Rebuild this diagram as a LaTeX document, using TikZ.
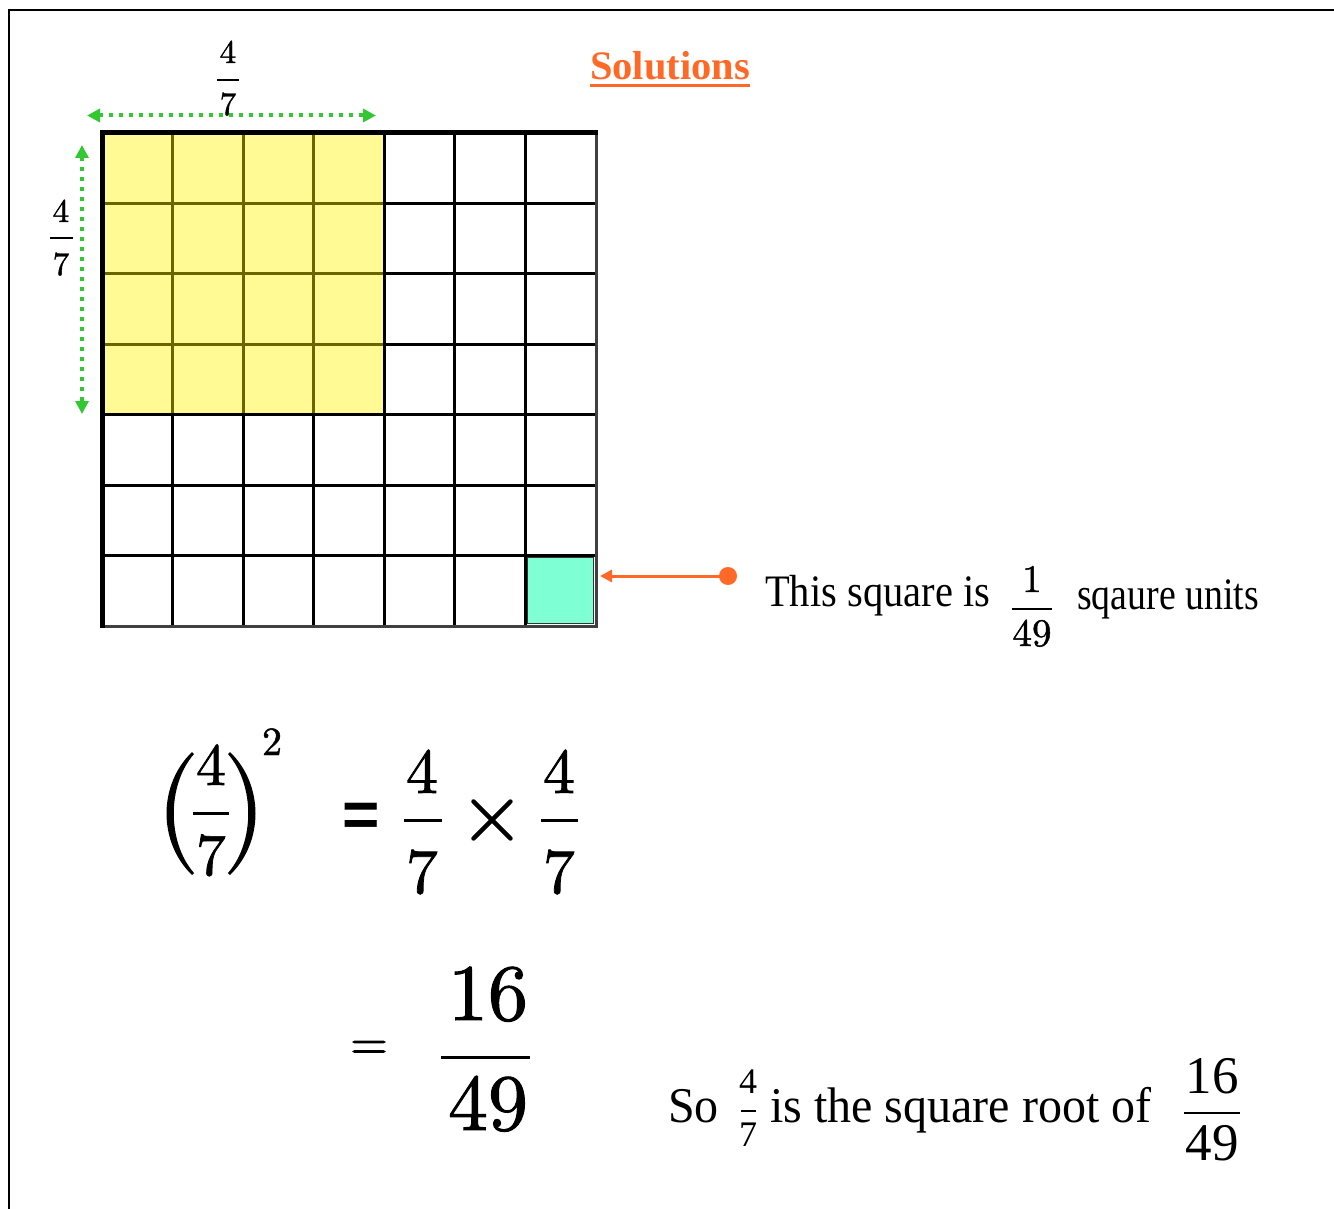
\documentclass[tikz,border=0pt]{standalone}
\usepackage{fontspec}
\setmainfont{Liberation Serif}
\newfontfamily\cmb{lmroman10-regular.otf}[FakeBold=1.2]
\newfontfamily\sansb{Liberation Sans}
\usetikzlibrary{arrows.meta}
\definecolor{grn}{RGB}{50,200,50}
\definecolor{org}{RGB}{255,105,40}
\definecolor{aqua}{RGB}{127,255,212}
\tikzset{
  dig/.style={inner sep=0pt, anchor=base, font=\cmb\fontsize{#1}{#1}\selectfont},
  tdig/.style={inner sep=0pt, anchor=base, font=\rmfamily\fontsize{#1}{#1}\selectfont},
  txt/.style={inner sep=0pt, anchor=base west, font=\rmfamily\fontsize{#1}{#1}\selectfont},
  gridline/.style={line width=3.2pt, black},
  fracbar/.style={line width=#1, black},
  greenarrow/.style={grn, line width=4pt, dash pattern=on 4pt off 6pt,
    {Triangle[length=13pt,width=13pt]}-{Triangle[length=13pt,width=13pt]}},
}
\begin{document}
\begin{tikzpicture}[x=1pt,y=-1pt]
\useasboundingbox (0,0) rectangle (1334,1209);
% frame
\draw[line width=2pt] (9,1209) -- (9,10) -- (1334,10);

% grid
\foreach \i in {1,...,6}{
  \draw[gridline] ({102+\i*70.57},133) -- ({102+\i*70.57},626);
  \draw[gridline] (102,{133+\i*70.43}) -- (596,{133+\i*70.43});
}
\draw[line width=3pt, black!75] (596,131) -- (596,626) -- (100,626);
\draw[line width=5pt] (102,628) -- (102,133) -- (598,133);
% yellow overlay
\fill[yellow, opacity=0.42] (104.5,135.5) rectangle (382.5,412.5);
% highlighted unit cell
\node[draw=black!80, line width=1.5pt, fill=aqua, minimum width=66pt, minimum height=66pt, inner sep=0pt] (cell) at (560.5,590.5) {};

% green dimension arrows
\coordinate (h1) at (87,115.5);
\coordinate (h2) at (376,115.5);
\coordinate (v1) at (82,145);
\coordinate (v2) at (82,414);
\draw[greenarrow] (h1) -- (h2);
\draw[greenarrow] (v1) -- (v2);

% top 4/7
\node[dig=33] (tn) at (228,63) {4};
\draw[fracbar=2pt] (217,80) -- (239,80);
\node[dig=33] (td) at (228,115) {7};
% left 4/7
\node[dig=33] (ln) at (61,222) {4};
\draw[fracbar=2pt] (50,238) -- (73,238);
\node[dig=33] (ld) at (61,275) {7};

% title
\node[txt=40, text=org, font=\rmfamily\bfseries\fontsize{40.5}{40.5}\selectfont] (title) at (590,80) {Solutions};
\draw[org, line width=3pt] (590,86) -- (750,86);

% orange pointer
\node[circle, fill=org, minimum size=18pt, inner sep=0pt] (dot) at (728,576) {};
\coordinate (tip) at (600,576);
\draw[org, line width=3pt, -{Triangle[length=12pt,width=12pt]}] (dot.center) -- (tip);

% text 1
\node[txt=45, xscale=0.9] (t1) at (765,606) {This square is};
\node[dig=39] (on) at (1032,592) {1};
\draw[fracbar=2pt] (1012,609) -- (1052,609);
\node[dig=39] (od) at (1032,646) {49};
\node[txt=45, xscale=0.84] (t2) at (1077,609) {sqaure units};

% (4/7)^2
\fill (192,752) .. controls (158,785) and (158,842) .. (192,875)
  -- (194,873) .. controls (167,842) and (167,785) .. (194,754) -- cycle;
\fill (230,752) .. controls (264,785) and (264,842) .. (230,875)
  -- (228,873) .. controls (255,842) and (255,785) .. (228,754) -- cycle;
\node[dig=60] (pn) at (211,785) {4};
\draw[fracbar=3pt] (193,813) -- (229,813);
\node[dig=60] (pd) at (211,875) {7};
\node[dig=40] (sq) at (272,755) {2};

% = 4/7 x 4/7
\node[inner sep=0pt, font=\sansb\bfseries\fontsize{64}{64}\selectfont] (eq1) at (361,820) {=};
\node[dig=64] (an) at (422,793) {4};
\draw[fracbar=3pt] (404,820) -- (442,820);
\node[dig=64] (ad) at (422,893) {7};
\node[inner sep=0pt, font=\cmb\fontsize{84}{84}\selectfont] (times) at (492,820) {×};
\node[dig=64] (bn) at (559,793) {4};
\draw[fracbar=3pt] (541,820) -- (578,820);
\node[dig=64] (bd) at (559,893) {7};

% = 16/49
\node[inner sep=0pt, font=\cmb\fontsize{49}{49}\selectfont] (eq2) at (369,1050) {=};
\node[dig=80] (cn) at (488,1020) {16};
\draw[fracbar=3pt] (441,1057) -- (530,1057);
\node[dig=80] (cd) at (488,1130) {49};

% So 4/7 is the square root of 16/49
\node[txt=50, xscale=0.96] (so) at (668,1122) {So};
\node[tdig=36] (sn) at (748,1093) {4};
\draw[fracbar=1.5pt] (741,1111) -- (756,1111);
\node[tdig=36] (sd) at (748,1146) {7};
\node[txt=50, xscale=0.96] (t3) at (770,1122) {is the square root of};
\node[tdig=53] (rn) at (1212,1093) {16};
\draw[fracbar=2pt] (1184,1113) -- (1240,1113);
\node[tdig=53] (rd) at (1212,1160) {49};
\end{tikzpicture}
\end{document}
